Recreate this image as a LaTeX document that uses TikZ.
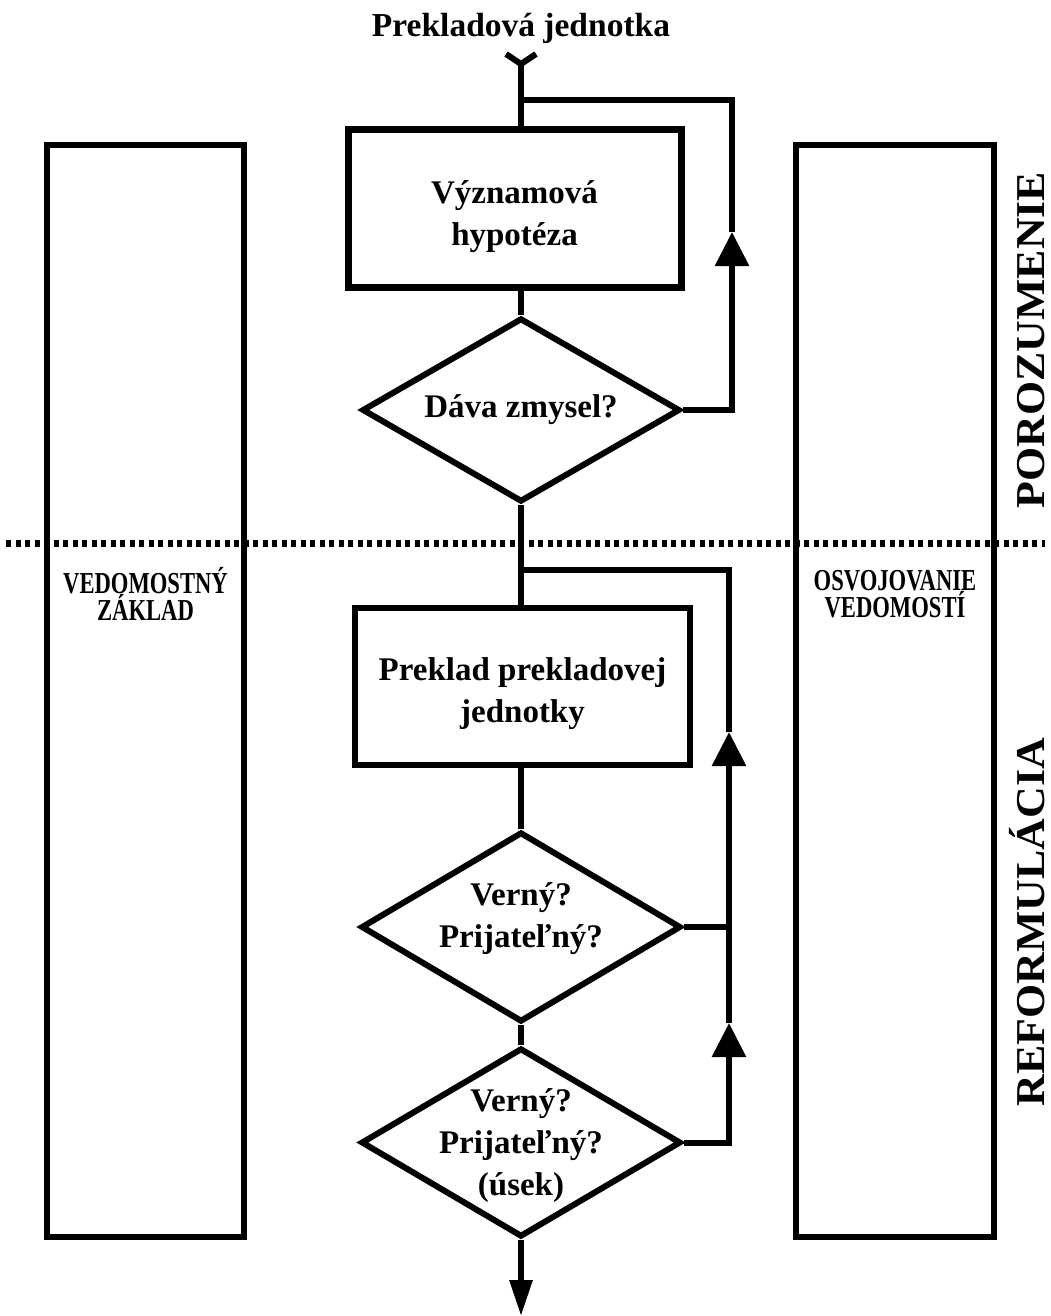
\documentclass[tikz,border=0pt]{standalone}
\usepackage{fontspec}
\usepackage{graphicx}
\setmainfont{Liberation Serif}
\usetikzlibrary{shapes.geometric,arrows.meta,calc}
\newcommand{\sidesq}[1]{\scalebox{0.78}[1.05]{#1}}
\tikzset{
  flow/.style={line width=6pt},
  tipbig/.style={-{Triangle[length=34pt,width=33pt]}},
  txt/.style={font=\fontsize{33}{42}\selectfont\bfseries, align=center},
  sidetxt/.style={font=\fontsize{29}{25}\selectfont\bfseries, align=center},
  vtxt/.style={font=\fontsize{41}{41}\selectfont\bfseries, rotate=90, inner sep=0pt, anchor=base},
  boxA/.style={draw, rectangle, line width=7pt, inner sep=0pt},
  boxB/.style={draw, rectangle, line width=5.5pt, inner sep=0pt},
  dia/.style={draw, diamond, line width=6pt, inner sep=0pt},
  sidebox/.style={draw, rectangle, line width=5.5pt, inner sep=0pt},
}
\begin{document}
\begin{tikzpicture}[x=1pt,y=-1pt]
\useasboundingbox (0,0) rectangle (1051,1316);
% side columns
\node[sidebox, minimum width=197pt, minimum height=1092pt] (L) at (145.5,691) {};
\node[sidebox, minimum width=198pt, minimum height=1092pt] (R) at (895,691) {};
\node[sidetxt] (lt) at (145.5,594) {\sidesq{VEDOMOSTNÝ}\\\sidesq{ZÁKLAD}};
\node[sidetxt] (rt) at (895,594) {\sidesq{OSVOJOVANIE}\\\sidesq{VEDOMOSTÍ}};
% dotted separator
\coordinate (dl) at (6,543);
\coordinate (dr) at (1045,543);
\draw[line width=7pt, dash pattern=on 5pt off 4.5pt] (dl) -- (dr);
% vertical labels
\node[vtxt] (por) at (1044,340) {\scalebox{1.07}[1]{POROZUMENIE}};
\node[vtxt] (ref) at (1044,922) {\scalebox{1.07}[1]{REFORMULÁCIA}};
% title and tail
\node[font=\fontsize{33.5}{40}\selectfont\bfseries] (title) at (521,28) {Prekladová jednotka};
\coordinate (tail) at (521,64);
\coordinate (tailL) at (506,54);
\coordinate (tailR) at (536,54);
\draw[flow] (tailL) -- (tail) -- (tailR);
% flow nodes
\node[boxA, minimum width=333pt, minimum height=157pt, label={[txt, yshift=-8pt]center:Významová\\hypotéza}] (b1) at (514.5,208.5) {};
\node[dia, minimum width=318pt, minimum height=184pt, label={[txt]center:Dáva zmysel?}] (d1) at (521,410) {};
\node[boxB, minimum width=335pt, minimum height=157pt, label={[txt, yshift=-7pt]center:Preklad prekladovej\\jednotky}] (b2) at (522.5,686.5) {};
\node[dia, minimum width=320pt, minimum height=190pt, label={[txt, yshift=8pt]center:Verný?\\Prijateľný?}] (d2) at (521,927) {};
\node[dia, minimum width=320pt, minimum height=189pt, label={[txt, yshift=-3pt]center:Verný?\\Prijateľný?\\(úsek)}] (d3) at (521,1142.5) {};
% junctions and arrow points
\coordinate (j1) at (521,100);
\coordinate (j2) at (521,570);
\coordinate (a1) at (732,232);
\coordinate (a2) at (729,732);
\coordinate (a3) at (729,1023);
\coordinate (out) at (521,1316);
% main stem
\draw[flow] (tail) -- (b1.north -| tail);
\draw[flow] (b1.south -| d1.north) -- (d1.north);
\draw[flow] (d1.south) -- (b2.north -| d1.south);
\draw[flow] (b2.south -| d2.north) -- (d2.north);
\draw[flow] (d2.south) -- (d3.north);
\draw[flow, -{Triangle[length=36pt,width=22pt]}] (d3.south) -- (out);
% loop 1
\draw[flow, tipbig] (d1.east) -| (a1);
\draw[flow] (a1) |- (j1);
% loop 2
\draw[flow, tipbig] (d3.east) -| (a3);
\draw[flow] (a3) |- (d2.east);
\draw[flow, tipbig] (d2.east) -| (a2);
\draw[flow] (a2) |- (j2);
\end{tikzpicture}
\end{document}
